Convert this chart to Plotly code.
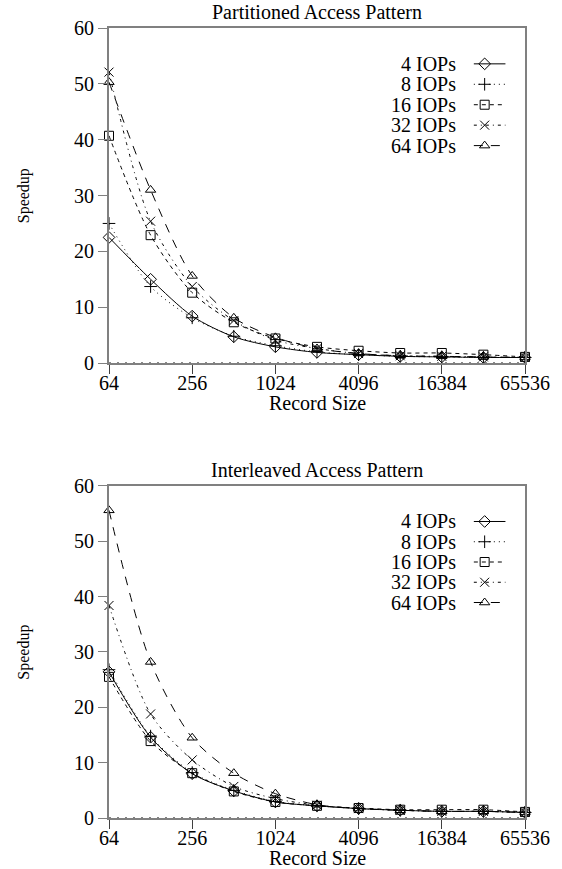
import math
import plotly.graph_objects as go

# Record sizes (bytes) on a base-2 log axis
record_sizes = [64, 128, 256, 512, 1024, 2048, 4096, 8192, 16384, 32768, 65536]
tick_sizes = [64, 256, 1024, 4096, 16384, 65536]
tick_labels = ["64", "256", "1024", "4096", "16384", "65536"]

series_names = ["4 IOPs", "8 IOPs", "16 IOPs", "32 IOPs", "64 IOPs"]

# Speedup, partitioned access pattern
part_4 = [22.5, 15.0, 8.4, 4.7, 2.9, 1.9, 1.5, 1.2, 1.1, 1.0, 1.0]
part_8 = [25.0, 13.7, 8.1, 4.8, 3.1, 2.0, 1.5, 1.2, 1.1, 1.0, 1.0]
part_16 = [40.7, 22.9, 12.6, 7.3, 4.4, 2.9, 2.2, 1.8, 1.8, 1.5, 1.1]
part_32 = [52.1, 25.4, 13.7, 7.6, 4.1, 2.6, 1.7, 1.3, 1.2, 1.1, 1.0]
part_64 = [50.3, 31.0, 15.6, 8.1, 4.6, 2.6, 1.7, 1.3, 1.2, 1.1, 1.0]

# Speedup, interleaved access pattern
inter_4 = [26.4, 14.6, 8.0, 4.9, 2.9, 2.2, 1.7, 1.4, 1.2, 1.2, 1.0]
inter_8 = [26.8, 14.8, 8.2, 5.0, 3.0, 2.2, 1.7, 1.4, 1.2, 1.2, 1.0]
inter_16 = [25.5, 13.9, 8.1, 4.8, 2.9, 2.2, 1.8, 1.5, 1.5, 1.5, 1.1]
inter_32 = [38.4, 18.8, 10.5, 5.7, 3.5, 2.3, 1.7, 1.4, 1.2, 1.2, 1.0]
inter_64 = [55.6, 28.2, 14.5, 8.1, 4.4, 2.4, 1.7, 1.4, 1.2, 1.2, 1.0]

partitioned = [part_4, part_8, part_16, part_32, part_64]
interleaved = [inter_4, inter_8, inter_16, inter_32, inter_64]

symbols = ["diamond-open", "cross-thin-open", "square-open", "x-thin-open", "triangle-up-open"]
dashes = ["solid", "1px,4px", "4px,4px", "3px,4px,1px,4px", "9px,8px"]

FONT = "Liberation Serif, Times New Roman, serif"
AXIS_GRAY = "#808080"
TEXT_SIZE = 20

fig = go.Figure()

panels = [
    # (data, x axis, y axis, key x axis, key y axis, title)
    (partitioned, "x", "y", "x3", "y3", "Partitioned Access Pattern"),
    (interleaved, "x2", "y2", "x4", "y4", "Interleaved Access Pattern"),
]

for data, xa, ya, lxa, lya, title in panels:
    for name, vals, sym, dash in zip(series_names, data, symbols, dashes):
        fig.add_trace(go.Scatter(
            x=record_sizes, y=vals, name=name, mode="lines+markers",
            xaxis=xa, yaxis=ya, cliponaxis=False, showlegend=False,
            line=dict(color="black", width=1, dash=dash, shape="spline", smoothing=0.8),
            marker=dict(symbol=sym, size=9, color="black", line=dict(color="black", width=1)),
        ))

    # key: right-aligned labels followed by a line sample with its marker
    for i, (name, sym, dash) in enumerate(zip(series_names, symbols, dashes)):
        row = 0.893 - i * 0.061
        fig.add_trace(go.Scatter(
            x=[0.877, 0.953], y=[row, row], mode="lines", xaxis=lxa, yaxis=lya,
            showlegend=False, hoverinfo="skip",
            line=dict(color="black", width=1, dash=dash),
        ))
        fig.add_trace(go.Scatter(
            x=[0.903], y=[row], mode="markers", xaxis=lxa, yaxis=lya,
            showlegend=False, hoverinfo="skip", cliponaxis=False,
            marker=dict(symbol=sym, size=9, color="black", line=dict(color="black", width=1)),
        ))
        fig.add_annotation(
            x=0.840, y=row, xref=lxa, yref=lya, text=name, showarrow=False,
            xanchor="right", yanchor="middle",
            font=dict(family=FONT, size=TEXT_SIZE, color="black"),
        )

    # panel title and axis captions
    fig.add_annotation(
        x=0.5, y=1.047, xref=xa + " domain", yref=ya + " domain", text=title,
        showarrow=False, xanchor="center", yanchor="middle",
        font=dict(family=FONT, size=TEXT_SIZE, color="black"),
    )
    fig.add_annotation(
        x=0.5, y=-0.12, xref=xa + " domain", yref=ya + " domain", text="Record Size",
        showarrow=False, xanchor="center", yanchor="middle",
        font=dict(family=FONT, size=TEXT_SIZE, color="black"),
    )
    fig.add_annotation(
        x=-0.205, y=0.5, xref=xa + " domain", yref=ya + " domain", text="Speedup",
        showarrow=False, xanchor="center", yanchor="middle", textangle=-90,
        font=dict(family=FONT, size=16, color="black"),
    )
    # dotted zero axis
    fig.add_shape(
        type="line", xref=xa + " domain", yref=ya, x0=0, x1=1, y0=0, y1=0,
        line=dict(color="black", width=1, dash="2px,6px"), layer="above",
    )

top_dom = [0.5759, 1.0]
bot_dom = [0.0, 0.4203]

x_range = [math.log10(record_sizes[0]) - 1e-6, math.log10(record_sizes[-1]) + 1e-6]

xaxis_style = dict(
    type="log", range=x_range, tickvals=tick_sizes, ticktext=tick_labels,
    showline=True, linecolor=AXIS_GRAY, linewidth=2, mirror=True,
    ticks="outside", ticklen=9, tickcolor="#404040", tickwidth=1,
    ticklabelstandoff=-8,
    showgrid=False, zeroline=False,
    tickfont=dict(family=FONT, size=TEXT_SIZE, color="black"),
)
yaxis_style = dict(
    range=[0, 60], dtick=10, showline=True, linecolor=AXIS_GRAY, linewidth=2, mirror=True,
    ticks="outside", ticklen=9, tickcolor=AXIS_GRAY, tickwidth=1,
    showgrid=False, zeroline=False,
    tickfont=dict(family=FONT, size=TEXT_SIZE, color="black"),
)
overlay = dict(range=[0, 1], visible=False, showgrid=False, zeroline=False, fixedrange=True)

fig.update_layout(
    width=562, height=869,
    margin=dict(l=109, r=29, t=28, b=51),
    paper_bgcolor="white", plot_bgcolor="white",
    showlegend=False,
    xaxis=dict(domain=[0, 1], anchor="y", **xaxis_style),
    yaxis=dict(domain=top_dom, anchor="x", **yaxis_style),
    xaxis2=dict(domain=[0, 1], anchor="y2", **xaxis_style),
    yaxis2=dict(domain=bot_dom, anchor="x2", **yaxis_style),
    xaxis3=dict(domain=[0, 1], anchor="y3", overlaying="x", **overlay),
    yaxis3=dict(domain=top_dom, anchor="x3", overlaying="y", **overlay),
    xaxis4=dict(domain=[0, 1], anchor="y4", overlaying="x2", **overlay),
    yaxis4=dict(domain=bot_dom, anchor="x4", overlaying="y2", **overlay),
)

fig.write_html("out.html")
